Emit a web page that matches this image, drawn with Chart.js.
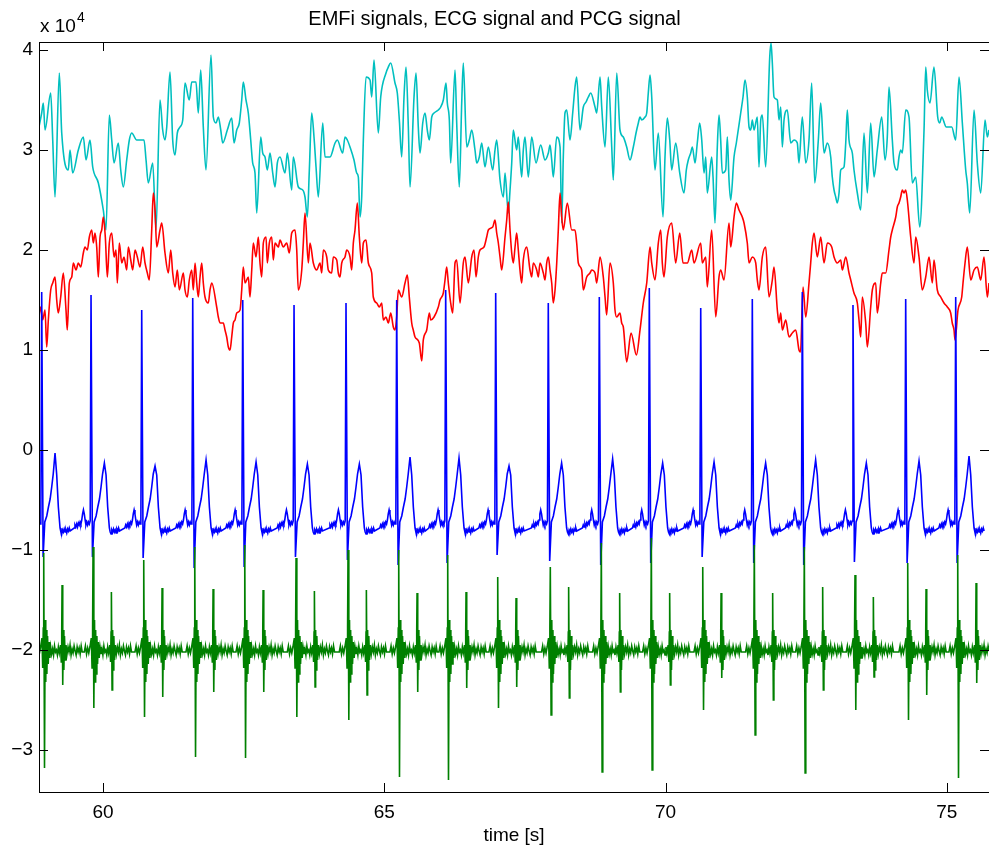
<!DOCTYPE html>
<html>
<head>
<meta charset="utf-8">
<title>EMFi signals, ECG signal and PCG signal</title>
<script src="https://cdn.jsdelivr.net/npm/chart.js@4.4.1/dist/chart.umd.min.js"></script>
<style>
  html, body { margin: 0; padding: 0; background: #fff; }
  #wrap { width: 989px; height: 854px; }
</style>
</head>
<body>
<div id="wrap"><canvas id="chart" width="989" height="854"></canvas></div>
<script>
// axis ranges and ticks (values in units of 10^4)
const xMin = 58.862, xMax = 75.751;
const yMin = -3.42, yMax = 4.08;
const xTicks = [60, 65, 70, 75];
const yTicks = [-3, -2, -1, 0, 1, 2, 3, 4];

// EMFi signal 1 (cyan)
const emfi1Time = [
  58.850, 58.910, 58.939, 58.969, 59.070, 59.106, 59.147, 59.223, 59.266, 59.383,
  59.413, 59.461, 59.561, 59.650, 59.698, 59.769, 59.817, 59.917, 60.005, 60.053,
  60.112, 60.155, 60.196, 60.272, 60.315, 60.361, 60.421, 60.468, 60.510, 60.599,
  60.729, 60.765, 60.805, 60.884, 60.942, 61.013, 61.061, 61.102, 61.133, 61.191,
  61.239, 61.280, 61.321, 61.369, 61.417, 61.458, 61.534, 61.577, 61.653, 61.694,
  61.737, 61.783, 61.831, 61.920, 61.961, 62.009, 62.050, 62.093, 62.128, 62.210,
  62.288, 62.329, 62.377, 62.423, 62.466, 62.494, 62.542, 62.583, 62.626, 62.661,
  62.702, 62.733, 62.804, 62.839, 62.880, 62.921, 62.969, 63.017, 63.058, 63.099,
  63.147, 63.236, 63.277, 63.355, 63.383, 63.472, 63.550, 63.591, 63.632, 63.668,
  63.710, 63.751, 63.787, 63.828, 63.906, 63.947, 64.036, 64.125, 64.165, 64.261,
  64.302, 64.343, 64.391, 64.462, 64.510, 64.539, 64.569, 64.599, 64.628, 64.676,
  64.747, 64.777, 64.818, 64.894, 64.937, 65.031, 65.072, 65.115, 65.191, 65.232,
  65.268, 65.310, 65.351, 65.387, 65.428, 65.458, 65.529, 65.565, 65.605, 65.636,
  65.684, 65.725, 65.765, 65.801, 65.844, 65.885, 65.961, 66.004, 66.050, 66.098,
  66.121, 66.157, 66.181, 66.258, 66.288, 66.334, 66.377, 66.405, 66.466, 66.512,
  66.555, 66.613, 66.644, 66.690, 66.733, 66.791, 66.850, 66.928, 66.969, 66.999,
  67.058, 67.117, 67.147, 67.205, 67.236, 67.266, 67.294, 67.354, 67.383, 67.443,
  67.472, 67.502, 67.561, 67.621, 67.698, 67.781, 67.858, 67.917, 67.947, 67.977,
  68.005, 68.066, 68.125, 68.155, 68.183, 68.213, 68.244, 68.302, 68.350, 68.391,
  68.421, 68.480, 68.539, 68.587, 68.628, 68.670, 68.747, 68.777, 68.836, 68.866,
  68.925, 68.983, 69.044, 69.072, 69.133, 69.191, 69.250, 69.310, 69.369, 69.428,
  69.476, 69.517, 69.547, 69.577, 69.636, 69.666, 69.694, 69.725, 69.755, 69.813, 69.872,
  69.956, 69.991, 70.032, 70.075, 70.110, 70.181, 70.253, 70.329, 70.370, 70.405,
  70.448, 70.477, 70.525, 70.565, 70.608, 70.644, 70.685, 70.715, 70.743, 70.821,
  70.845, 70.880, 70.921, 70.951, 70.981, 71.010, 71.070, 71.099, 71.129, 71.159,
  71.218, 71.259, 71.337, 71.378, 71.413, 71.454, 71.485, 71.515, 71.543, 71.573,
  71.632, 71.662, 71.693, 71.721, 71.781, 71.853, 71.876, 71.899, 71.929, 71.988,
  72.018, 72.048, 72.077, 72.107, 72.165, 72.226, 72.285, 72.343, 72.373, 72.432,
  72.493, 72.551, 72.599, 72.653, 72.717, 72.759, 72.818, 72.877, 72.937, 72.965,
  72.996, 73.026, 73.054, 73.085, 73.115, 73.173, 73.204, 73.232, 73.262, 73.321,
  73.351, 73.410, 73.470, 73.529, 73.588, 73.648, 73.707, 73.765, 73.844, 73.902,
  73.943, 73.973, 74.032, 74.062, 74.121, 74.151, 74.181, 74.210, 74.270, 74.329,
  74.388, 74.448, 74.519, 74.596, 74.626, 74.654, 74.702, 74.773, 74.839, 74.874,
  74.910, 74.992, 75.088, 75.159, 75.218, 75.277, 75.337, 75.365, 75.408, 75.485,
  75.543, 75.604, 75.680, 75.721, 75.751
];
const emfi1Value = [
  3.20, 3.37, 3.47, 3.20, 3.57, 3.10, 2.53, 3.77, 3.17, 2.80,
  3.00, 2.77, 3.00, 3.13, 2.90, 3.10, 2.83, 2.67, 2.40, 2.20,
  3.35, 3.10, 2.87, 3.07, 2.80, 2.63, 2.90, 3.10, 3.17, 3.10,
  3.10, 2.90, 2.67, 2.87, 2.20, 3.50, 3.20, 3.10, 3.23, 3.78,
  3.10, 2.95, 3.17, 3.23, 3.30, 3.67, 3.50, 3.68, 3.68, 3.37,
  3.80, 3.23, 2.80, 3.95, 3.33, 3.27, 3.33, 3.20, 3.07, 3.20,
  3.32, 3.07, 3.20, 3.27, 3.50, 3.68, 3.50, 3.37, 3.10, 2.87,
  2.77, 2.37, 3.13, 2.97, 2.93, 2.80, 2.97, 2.77, 2.63, 2.87,
  2.93, 2.77, 2.97, 2.60, 2.93, 2.63, 2.60, 2.53, 2.33, 2.80,
  3.37, 3.13, 2.83, 2.53, 3.27, 2.93, 2.93, 3.07, 3.10, 2.97,
  3.13, 3.10, 3.03, 2.90, 2.77, 2.73, 2.33, 2.53, 3.10, 3.73,
  3.70, 3.53, 3.90, 3.17, 3.53, 3.77, 3.83, 3.87, 3.67, 3.57,
  3.30, 2.93, 3.53, 3.83, 3.23, 2.63, 3.53, 3.77, 3.23, 2.97,
  3.27, 3.37, 3.20, 3.10, 3.33, 3.37, 3.40, 3.43, 3.50, 3.67,
  3.47, 3.30, 2.87, 3.80, 3.27, 2.63, 3.47, 3.87, 3.03, 3.10,
  3.20, 3.00, 2.87, 2.93, 3.07, 2.83, 3.03, 2.80, 3.00, 3.10,
  2.70, 2.53, 2.77, 2.37, 2.60, 2.87, 3.20, 3.00, 3.13, 2.73,
  3.00, 3.13, 2.73, 3.13, 2.87, 3.05, 2.90, 2.97, 3.05, 2.90,
  2.73, 3.13, 3.03, 2.27, 2.93, 3.37, 3.40, 3.10, 3.37, 3.63,
  3.73, 3.20, 3.43, 3.48, 3.53, 3.57, 3.43, 3.37, 3.73, 3.43,
  3.03, 3.73, 3.03, 2.70, 3.77, 3.20, 3.13, 3.03, 2.90, 3.03,
  3.17, 3.27, 3.33, 3.30, 3.33, 3.37, 3.57, 3.75, 3.53, 2.80, 3.17,
  2.33, 2.93, 3.32, 3.10, 2.80, 3.07, 2.77, 2.57, 2.80, 2.90,
  2.97, 3.03, 2.87, 3.07, 3.27, 3.10, 2.77, 2.93, 2.57, 2.93,
  2.73, 2.27, 3.03, 3.35, 3.10, 2.77, 2.80, 3.13, 2.70, 2.50,
  2.93, 3.07, 3.37, 3.53, 3.70, 3.53, 3.23, 3.20, 3.30, 3.20,
  3.33, 2.83, 3.30, 3.35, 2.83, 3.93, 4.07, 3.87, 3.53, 3.50,
  3.30, 3.43, 3.03, 3.30, 3.40, 3.07, 3.10, 3.07, 2.87, 3.33,
  2.87, 3.10, 3.67, 2.67, 3.10, 3.47, 2.97, 3.07, 2.93, 2.73,
  2.60, 2.53, 2.47, 2.57, 2.80, 2.83, 3.07, 3.40, 3.10, 2.97,
  2.80, 2.57, 2.40, 3.17, 2.57, 3.27, 2.73, 3.00, 3.33, 2.90,
  3.13, 3.63, 3.10, 2.87, 2.80, 2.93, 3.00, 2.97, 3.40, 3.33,
  2.67, 2.73, 2.23, 3.20, 3.83, 3.60, 3.47, 3.83, 3.33, 3.27,
  3.33, 3.23, 3.23, 3.10, 3.73, 3.27, 2.80, 2.67, 2.37, 3.40,
  2.87, 2.57, 3.30, 3.13, 3.20
];

// EMFi signal 2 (red)
const emfi2Time = [
  58.850, 58.893, 58.928, 58.969, 58.999, 59.028, 59.070, 59.106, 59.147, 59.177,
  59.205, 59.248, 59.294, 59.342, 59.365, 59.401, 59.444, 59.472, 59.520, 59.561,
  59.604, 59.650, 59.680, 59.721, 59.757, 59.799, 59.828, 59.858, 59.888, 59.917,
  59.947, 59.977, 60.005, 60.041, 60.077, 60.112, 60.155, 60.196, 60.231, 60.254,
  60.290, 60.333, 60.373, 60.421, 60.450, 60.493, 60.528, 60.569, 60.610, 60.658,
  60.706, 60.747, 60.788, 60.823, 60.866, 60.894, 60.925, 60.955, 61.013, 61.044,
  61.102, 61.161, 61.204, 61.239, 61.280, 61.321, 61.357, 61.428, 61.458, 61.499,
  61.534, 61.577, 61.605, 61.636, 61.666, 61.694, 61.725, 61.755, 61.783, 61.813,
  61.872, 61.902, 61.933, 62.021, 62.050, 62.080, 62.139, 62.169, 62.199, 62.228,
  62.258, 62.288, 62.317, 62.347, 62.377, 62.436, 62.466, 62.494, 62.525, 62.583,
  62.613, 62.644, 62.672, 62.720, 62.761, 62.791, 62.821, 62.850, 62.898, 62.921,
  62.957, 62.999, 63.028, 63.058, 63.117, 63.147, 63.205, 63.266, 63.312, 63.355,
  63.413, 63.444, 63.472, 63.533, 63.561, 63.591, 63.650, 63.680, 63.739, 63.799,
  63.858, 63.888, 63.917, 63.977, 64.005, 64.065, 64.094, 64.155, 64.183, 64.213,
  64.244, 64.302, 64.333, 64.391, 64.421, 64.450, 64.480, 64.521, 64.557, 64.599,
  64.628, 64.676, 64.717, 64.777, 64.805, 64.866, 64.912, 64.955, 64.983, 65.031,
  65.072, 65.115, 65.161, 65.191, 65.221, 65.250, 65.310, 65.369, 65.410, 65.445,
  65.488, 65.516, 65.547, 65.623, 65.666, 65.694, 65.755, 65.801, 65.826, 65.885,
  65.961, 65.991, 66.050, 66.080, 66.110, 66.139, 66.181, 66.217, 66.258, 66.288,
  66.347, 66.405, 66.436, 66.494, 66.555, 66.596, 66.631, 66.672, 66.702, 66.773,
  66.821, 66.850, 66.928, 66.969, 66.999, 67.028, 67.058, 67.088, 67.147, 67.177,
  67.205, 67.236, 67.266, 67.294, 67.325, 67.354, 67.383, 67.413, 67.443, 67.472,
  67.533, 67.591, 67.621, 67.650, 67.710, 67.739, 67.769, 67.828, 67.858, 67.888,
  67.917, 67.947, 67.977, 68.005, 68.036, 68.066, 68.094, 68.125, 68.155, 68.183,
  68.254, 68.333, 68.391, 68.421, 68.450, 68.510, 68.539, 68.599, 68.658, 68.688,
  68.747, 68.777, 68.836, 68.894, 68.925, 68.954, 69.013, 69.072, 69.102, 69.133,
  69.191, 69.221, 69.250, 69.310, 69.387, 69.483, 69.547, 69.605, 69.666, 69.725,
  69.755, 69.813, 69.872, 69.915, 69.943, 69.973, 70.032, 70.110, 70.181, 70.253,
  70.311, 70.388, 70.466, 70.507, 70.626, 70.654, 70.715, 70.743, 70.821, 70.893,
  70.951, 70.981, 71.040, 71.129, 71.159, 71.218, 71.259, 71.307, 71.365, 71.396,
  71.454, 71.485, 71.543, 71.604, 71.632, 71.662, 71.721, 71.781, 71.840, 71.899,
  71.929, 71.988, 72.018, 72.048, 72.077, 72.137, 72.196, 72.254, 72.315, 72.373,
  72.400, 72.445, 72.493, 72.551, 72.581, 72.610, 72.640, 72.699, 72.759, 72.818,
  72.877, 72.955, 72.996, 73.054, 73.115, 73.143, 73.204, 73.262, 73.293, 73.351,
  73.410, 73.440, 73.470, 73.499, 73.559, 73.588, 73.648, 73.677, 73.737, 73.765,
  73.826, 73.854, 73.915, 73.973, 74.004, 74.032, 74.093, 74.121, 74.151, 74.181,
  74.210, 74.240, 74.270, 74.299, 74.359, 74.418, 74.448, 74.507, 74.565, 74.626,
  74.685, 74.743, 74.773, 74.832, 74.893, 74.951, 75.010, 75.070, 75.098, 75.129,
  75.147, 75.200, 75.266, 75.289, 75.325, 75.365, 75.426, 75.485, 75.543, 75.604,
  75.662, 75.721, 75.751
];
const emfi2Value = [
  1.27, 1.43, 1.30, 1.40, 1.03, 1.30, 1.60, 1.67, 1.73, 1.50,
  1.37, 1.53, 1.77, 1.40, 1.20, 1.67, 1.73, 1.87, 1.80, 1.87,
  1.83, 1.97, 2.03, 2.00, 2.13, 2.20, 2.07, 2.17, 2.03, 1.73,
  2.13, 2.20, 2.33, 2.13, 1.73, 2.07, 2.17, 1.93, 2.00, 1.67,
  2.07, 1.87, 1.93, 1.80, 2.03, 1.90, 1.80, 2.00, 1.93, 1.83,
  2.03, 1.87, 1.77, 1.70, 2.20, 2.57, 2.40, 2.03, 2.20, 2.27,
  1.97, 1.77, 2.00, 1.77, 1.63, 1.80, 1.60, 1.77, 1.60, 1.53,
  1.70, 1.80, 1.60, 1.87, 1.67, 1.53, 1.73, 1.87, 1.67, 1.53,
  1.47, 1.60, 1.67, 1.43, 1.33, 1.27, 1.27, 1.20, 1.13, 1.03,
  1.00, 1.13, 1.27, 1.30, 1.37, 1.40, 1.60, 1.83, 1.67, 1.73,
  1.53, 1.80, 2.07, 1.93, 2.13, 1.87, 1.73, 2.07, 2.13, 1.87,
  2.07, 2.13, 1.90, 2.07, 2.03, 2.10, 2.03, 2.07, 1.97, 2.17,
  2.20, 2.00, 1.60, 1.80, 2.07, 2.37, 1.87, 2.07, 1.87, 1.80,
  1.87, 1.77, 2.00, 1.93, 1.80, 1.77, 1.93, 1.90, 1.77, 1.73,
  1.87, 1.93, 2.00, 1.93, 1.80, 2.07, 2.20, 2.47, 2.13, 1.87,
  2.07, 2.10, 1.87, 1.77, 1.53, 1.47, 1.43, 1.47, 1.30, 1.33,
  1.27, 1.37, 1.23, 1.20, 1.33, 1.60, 1.53, 1.67, 1.75, 1.53,
  1.27, 1.20, 1.13, 1.07, 0.89, 1.10, 1.20, 1.37, 1.30, 1.33,
  1.43, 1.50, 1.57, 1.70, 1.83, 1.67, 1.47, 1.37, 1.87, 1.90,
  1.47, 1.87, 1.93, 1.67, 1.93, 2.00, 1.73, 1.93, 2.00, 2.03,
  2.13, 2.20, 2.23, 2.30, 2.17, 2.07, 1.93, 1.80, 2.13, 2.30,
  2.48, 2.20, 1.97, 1.87, 2.03, 2.17, 2.00, 1.80, 1.67, 1.90,
  2.03, 1.80, 1.73, 1.87, 1.80, 1.73, 1.87, 1.77, 1.70, 1.87,
  1.93, 1.80, 1.67, 1.47, 1.60, 1.87, 2.20, 2.57, 2.33, 2.20,
  2.47, 2.20, 2.20, 2.07, 1.87, 1.80, 1.60, 1.73, 1.77, 1.80,
  1.77, 1.67, 1.93, 1.73, 1.53, 1.35, 1.87, 1.67, 1.40, 1.33,
  1.37, 1.27, 1.23, 0.88, 1.17, 0.95, 1.20, 1.47, 1.67, 2.03,
  1.87, 1.70, 2.07, 2.20, 1.87, 1.73, 2.13, 2.27, 1.87, 2.17,
  1.87, 1.87, 2.00, 1.87, 2.07, 1.87, 1.93, 1.63, 2.20, 1.33,
  1.73, 1.80, 1.70, 2.27, 2.03, 2.33, 2.47, 2.40, 2.33, 2.27,
  2.07, 1.87, 1.93, 1.87, 1.70, 1.60, 1.93, 2.03, 1.53, 1.70,
  1.83, 1.40, 1.27, 1.37, 1.20, 1.30, 1.13, 1.17, 1.20, 1.00,
  0.98, 1.63, 1.33, 1.67, 1.87, 2.07, 2.17, 1.93, 2.13, 1.87,
  2.07, 2.03, 1.93, 1.87, 1.90, 1.80, 1.93, 1.77, 1.70, 1.57,
  1.47, 1.30, 1.13, 1.53, 1.27, 1.03, 1.43, 1.60, 1.67, 1.37,
  1.67, 1.77, 1.77, 2.00, 2.13, 2.20, 2.33, 2.43, 2.47, 2.53,
  2.60, 2.57, 2.60, 2.50, 2.13, 1.87, 2.13, 1.93, 1.60, 1.73,
  1.93, 1.67, 1.90, 1.60, 1.53, 1.47, 1.43, 1.37, 1.27, 1.20,
  1.10, 1.40, 1.53, 1.67, 1.87, 2.03, 1.70, 1.80, 1.83, 1.70,
  1.93, 1.53, 1.67
];

// ECG: one entry per heartbeat (R-peak time, R height, S dip, T-wave peak)
const ecgBeatTime = [58.910, 59.787, 60.688, 61.595, 62.484, 63.396, 64.320, 65.221, 66.092, 66.981,
                     67.916, 68.823, 69.712, 70.626, 71.543, 72.432, 73.333, 74.270, 75.159];
const ecgRPeak = [1.58, 1.55, 1.40, 1.52, 1.50, 1.45, 1.47, 1.50, 1.60, 1.57,
                  1.47, 1.53, 1.62, 1.42, 1.51, 1.58, 1.45, 1.51, 1.53];
const ecgSDip = [-1.07, -1.07, -1.08, -1.18, -1.17, -1.07, -1.10, -1.15, -1.13, -1.05,
                 -1.11, -1.15, -1.13, -1.07, -1.13, -1.15, -1.12, -1.13, -1.13];
const ecgTPeak = [-0.03, -0.13, -0.16, -0.10, -0.12, -0.14, -0.14, -0.07, -0.08, -0.16,
                  -0.13, -0.09, -0.13, -0.12, -0.13, -0.10, -0.13, -0.11, -0.06];
// shape of one beat around its R peak (seconds from R, value); R/S/T come from the arrays above
const ecgShapeOffset = [-0.30, -0.285, -0.27, -0.255, -0.24, -0.225, -0.21, -0.195, -0.18, -0.165,
                        -0.15, -0.135, -0.12, -0.105, -0.09, -0.075, -0.06, -0.045, -0.03, -0.015,
                        0, 0.025, 0.055, 0.09, 0.12, 0.15, 0.178, 0.205, 0.237, 0.267,
                        0.296, 0.326, 0.341, 0.356, 0.37, 0.385, 0.40, 0.415, 0.43, 0.445,
                        0.46, 0.475, 0.49, 0.505];
const ecgShapeValue = [-0.78, -0.75, -0.77, -0.74, -0.77, -0.73, -0.75, -0.72, -0.74, -0.70,
                       -0.64, -0.60, -0.64, -0.70, -0.75, -0.72, -0.75, -0.72, -0.74, -0.71,
                       'R', 'S', -0.72, -0.66, -0.57, -0.49, -0.37, -0.24, 'T', -0.25,
                       -0.57, -0.78, -0.82, -0.84, -0.80, -0.82, -0.79, -0.82, -0.80, -0.83,
                       -0.79, -0.81, -0.78, -0.81];

// PCG: heart sounds S1 and S2 per beat (upper and lower swing)
const pcgS1Top = [-1.03, -0.97, -1.10, -0.97, -0.95, -1.08, -1.00, -1.00, -1.05, -1.27,
                  -1.17, -0.93, -0.88, -1.17, -0.95, -0.97, -1.25, -1.13, -1.05];
const pcgS1Bottom = [-3.18, -2.58, -2.67, -3.07, -3.08, -2.67, -2.70, -3.27, -3.30, -2.58,
                     -2.65, -3.22, -3.20, -2.60, -2.85, -3.23, -2.60, -2.70, -3.28];
const pcgS2Top = [-1.35, -1.42, -1.38, -1.39, -1.40, -1.41, -1.40, -1.43, -1.42, -1.48,
                  -1.37, -1.43, -1.43, -1.43, -1.43, -1.37, -1.47, -1.39, -1.33];
const pcgS2Bottom = [-2.35, -2.40, -2.47, -2.42, -2.42, -2.37, -2.45, -2.42, -2.38, -2.37,
                     -2.48, -2.42, -2.35, -2.28, -2.50, -2.40, -2.27, -2.45, -2.33];
const pcgShapeOffset = [-0.12, -0.10, -0.08, -0.06, -0.04, -0.02, 0.005, 0.018, 0.028, 0.036,
                        0.05, 0.062, 0.072, 0.082, 0.092, 0.104, 0.116, 0.13, 0.145, 0.16,
                        0.177, 0.194, 0.211, 0.228, 0.245, 0.262, 0.279, 0.296, 0.313, 0.335,
                        0.348, 0.356, 0.362, 0.374, 0.384, 0.394, 0.405, 0.418, 0.432, 0.45,
                        0.468, 0.486, 0.504, 0.522, 0.54, 0.558, 0.576, 0.594, 0.612, 0.63,
                        0.648, 0.666, 0.684, 0.702, 0.72];
const pcgShapeValue = [-2.02, -1.96, -2.04, -1.98, -2.03, -1.97, -1.88, -2.18, -1.78, 'S1T',
                       'S1B', -1.70, -2.32, -1.80, -2.24, -1.86, -2.14, -1.92, -2.08, -1.97,
                       -2.04, -1.99, -2.05, -1.96, -2.02, -2.00, -2.05, -1.97, -2.03, -1.95,
                       -2.12, -1.82, 'S2T', 'S2B', -1.80, -2.20, -1.86, -2.10, -1.95, -2.04,
                       -1.97, -2.02, -1.95, -2.05, -1.99, -2.03, -1.96, -2.01, -2.05, -1.97,
                       -2.02, -1.98, -2.04, -1.96, -2.02];

function toPoints(times, values) {
    return times.map((t, i) => ({ x: t, y: values[i] }));
}

// lay one beat shape at every beat time, filling the named slots per beat
function beatPoints(beatTimes, offsets, shape, slots) {
    const pts = [];
    beatTimes.forEach((tr, i) => {
        offsets.forEach((dt, j) => {
            const v = typeof shape[j] === 'string' ? slots[shape[j]][i] : shape[j];
            pts.push({ x: +(tr + dt).toFixed(4), y: v });
        });
    });
    return pts;
}

const ecgPoints = beatPoints(ecgBeatTime, ecgShapeOffset, ecgShapeValue,
    { R: ecgRPeak, S: ecgSDip, T: ecgTPeak });
const pcgPoints = beatPoints(ecgBeatTime, pcgShapeOffset, pcgShapeValue,
    { S1T: pcgS1Top, S1B: pcgS1Bottom, S2T: pcgS2Top, S2B: pcgS2Bottom });

const FONT = '"Liberation Sans", Arial, Helvetica, sans-serif';
Chart.defaults.font.family = FONT;
Chart.defaults.color = '#000';

// MATLAB-like box with inward ticks and the "x 10^4" multiplier
const axesFrame = {
    id: 'axesFrame',
    afterDraw(chart) {
        const { ctx, chartArea: a, scales: { x, y } } = chart;
        ctx.save();
        ctx.strokeStyle = '#000';
        ctx.lineWidth = 1;
        ctx.strokeRect(a.left + 0.5, a.top + 0.5, a.right - a.left, a.bottom - a.top);
        ctx.beginPath();
        xTicks.forEach(v => {
            const px = Math.round(x.getPixelForValue(v)) + 0.5;
            ctx.moveTo(px, a.bottom); ctx.lineTo(px, a.bottom - 9);
            ctx.moveTo(px, a.top); ctx.lineTo(px, a.top + 9);
        });
        yTicks.forEach(v => {
            const py = Math.round(y.getPixelForValue(v)) + 0.5;
            ctx.moveTo(a.left, py); ctx.lineTo(a.left + 9, py);
            ctx.moveTo(a.right, py); ctx.lineTo(a.right - 9, py);
        });
        ctx.stroke();

        ctx.fillStyle = '#000';
        ctx.textBaseline = 'alphabetic';
        ctx.font = '19px ' + FONT;
        ctx.fillText('x 10', 40, 32);
        const w = ctx.measureText('x 10').width;
        ctx.font = '14px ' + FONT;
        ctx.fillText('4', 40 + w + 1, 22);
        ctx.restore();
    }
};

new Chart(document.getElementById('chart'), {
    type: 'line',
    data: {
        datasets: [
            { label: 'EMFi 1', data: toPoints(emfi1Time, emfi1Value), borderColor: '#00bfbf',
              cubicInterpolationMode: 'monotone', order: 3 },
            { label: 'EMFi 2', data: toPoints(emfi2Time, emfi2Value), borderColor: '#ff0000',
              cubicInterpolationMode: 'monotone', order: 2 },
            { label: 'ECG', data: ecgPoints, borderColor: '#0000ff', order: 1 },
            { label: 'PCG', data: pcgPoints, borderColor: '#008000', order: 0 }
        ]
    },
    options: {
        responsive: false,
        animation: false,
        devicePixelRatio: 1,
        parsing: false,
        elements: {
            point: { radius: 0 },
            line: { borderWidth: 1.6, tension: 0, fill: false }
        },
        layout: { padding: 0 },
        plugins: {
            legend: { display: false },
            tooltip: { enabled: false },
            title: {
                display: true,
                text: 'EMFi signals, ECG signal and PCG signal',
                color: '#000',
                font: { size: 20, weight: 'normal' },
                padding: { top: 7, bottom: 11 }
            }
        },
        scales: {
            x: {
                type: 'linear',
                min: xMin,
                max: xMax,
                afterBuildTicks: s => { s.ticks = xTicks.map(v => ({ value: v })); },
                afterFit: s => { s.height = 62; },
                grid: { display: false, drawTicks: false },
                border: { display: false },
                ticks: { font: { size: 19 }, padding: 9, maxRotation: 0, autoSkip: false },
                title: { display: true, text: 'time [s]', font: { size: 19 }, padding: { top: 0, bottom: 6.6 } }
            },
            y: {
                type: 'linear',
                min: yMin,
                max: yMax,
                afterBuildTicks: s => { s.ticks = yTicks.map(v => ({ value: v })); },
                afterFit: s => { s.width = 39; },
                grid: { display: false, drawTicks: false },
                border: { display: false },
                ticks: {
                    font: { size: 19 },
                    padding: 6,
                    autoSkip: false,
                    callback: v => (v < 0 ? '\u2212' + Math.abs(v) : String(v))
                }
            }
        }
    },
    plugins: [axesFrame]
});
</script>
</body>
</html>
